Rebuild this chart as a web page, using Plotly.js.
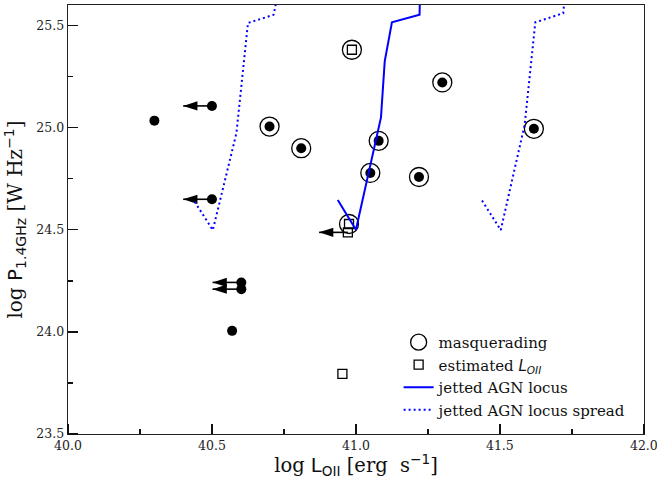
<!DOCTYPE html>
<html>
<head>
<meta charset="utf-8">
<script src="https://cdn.plot.ly/plotly-3.0.1.min.js"></script>
<style>html,body{margin:0;padding:0;background:#fff}#chart{width:657px;height:479px}</style>
</head>
<body>
<div id="chart"></div>
<script>
// plain detections (filled dots)
const dotX = [40.30, 40.57, 40.70, 40.81, 41.30, 41.079, 41.05, 41.219, 41.618];
const dotY = [25.034, 24.005, 25.005, 24.899, 25.221, 24.935, 24.778, 24.758, 24.994];
// upper limits on L_OII (filled dots with left arrows)
const limX = [40.50, 40.50, 40.602, 40.602];
const limY = [25.106, 24.649, 24.242, 24.209];
// masquerading sources (rings)
const ringX = [40.70, 40.81, 41.30, 41.079, 41.05, 41.219, 41.618, 40.986, 40.976];
const ringY = [25.005, 24.899, 25.221, 24.935, 24.778, 24.758, 24.994, 25.381, 24.528];
// estimated L_OII (open squares)
const sqX = [40.986, 40.976, 40.972, 40.953];
const sqY = [25.381, 24.528, 24.487, 23.794];
// estimated L_OII that is an upper limit
const sqLimX = [40.972];
const sqLimY = [24.487];
// jetted AGN locus
const locusX = [40.937, 41.0, 41.087, 41.10, 41.125, 41.221, 41.223];
const locusY = [24.645, 24.50, 25.05, 25.324, 25.515, 25.552, 25.70];
// spread of the locus
const spreadLoX = [40.44, 40.503, 40.585, 40.625, 40.714, 40.724];
const spreadLoY = [24.637, 24.498, 24.973, 25.512, 25.552, 25.62];
const spreadHiX = [41.438, 41.503, 41.586, 41.623, 41.72, 41.724];
const spreadHiY = [24.643, 24.498, 25.013, 25.515, 25.56, 25.62];
// axis ticks
const xTicks = [40.0, 40.5, 41.0, 41.5, 42.0];
const xMinor = [40.25, 40.75, 41.25, 41.75];
const yTicks = [23.5, 24.0, 24.5, 25.0, 25.5];
const yMinor = [23.75, 24.25, 24.75, 25.25];
const arrowLen = 0.1;

const allLimX = limX.concat(sqLimX), allLimY = limY.concat(sqLimY);
const arrX = [], arrY = [], tipX = [], tipY = [];
allLimX.forEach((x, i) => {
  arrX.push(x, x - arrowLen, null); arrY.push(allLimY[i], allLimY[i], null);
  tipX.push(x - arrowLen); tipY.push(allLimY[i]);
});

const serif = 'DejaVu Serif, serif';
const blue = 'rgb(0,0,255)';
const tickCol = '#111';

const traces = [
  {x: arrX, y: arrY, mode: 'lines', line: {color: 'black', width: 1.6}, showlegend: false, hoverinfo: 'skip'},
  {x: tipX, y: tipY, mode: 'markers', marker: {symbol: 'arrow', angle: -90, size: 15, color: 'black', line: {width: 0}}, showlegend: false},
  {x: dotX.concat(limX), y: dotY.concat(limY), mode: 'markers', marker: {symbol: 'circle', size: 10, color: 'black', line: {width: 0}}, showlegend: false},
  {x: ringX, y: ringY, mode: 'markers', name: 'masquerading', marker: {symbol: 'circle-open', size: 19, color: 'black', line: {width: 1.3, color: 'black'}}},
  {x: sqX, y: sqY, mode: 'markers', name: 'estimated <i><span style="font-family:DejaVu Sans">L<sub>OII</sub></span></i>', marker: {symbol: 'square-open', size: 9, color: 'black', line: {width: 1.3, color: 'black'}}},
  {x: locusX, y: locusY, mode: 'lines', name: 'jetted AGN locus', line: {color: blue, width: 2}},
  {x: spreadLoX, y: spreadLoY, mode: 'lines', name: 'jetted AGN locus spread', legendgroup: 'sp', line: {color: blue, width: 2, dash: '2px,3px'}},
  {x: spreadHiX, y: spreadHiY, mode: 'lines', name: 'jetted AGN locus spread', legendgroup: 'sp', showlegend: false, line: {color: blue, width: 2, dash: '2px,3px'}},
  // empty trace that only anchors the overlay axes carrying the major tick marks
  {x: [], y: [], xaxis: 'x2', yaxis: 'y2', mode: 'markers', showlegend: false, hoverinfo: 'skip'}
];

const axisCommon = {
  showgrid: false, zeroline: false, showline: true, mirror: true,
  linecolor: '#222', linewidth: 1.3,
  ticks: 'inside', ticklen: 10, tickwidth: 1.5, tickcolor: tickCol,
  ticklabeloverflow: 'allow', tickformat: '.1f',
  tickfont: {family: serif, size: 12.5, color: '#222'}
};
const minorCommon = {ticks: 'inside', ticklen: 5, tickwidth: 1.5, tickcolor: tickCol, showgrid: false};
const overlayCommon = {
  showgrid: false, zeroline: false, showline: false, showticklabels: false,
  ticks: '', tickmode: 'array', tickvals: []
};

const layout = {
  width: 657, height: 479,
  margin: {l: 68, r: 13, t: 5, b: 45},
  paper_bgcolor: 'white', plot_bgcolor: 'white',
  font: {family: serif, color: '#111'},
  xaxis: Object.assign({}, axisCommon, {
    range: [40.0, 42.0005], tickmode: 'array', tickvals: xTicks,
    minor: Object.assign({}, minorCommon, {tickvals: xMinor}),
    title: {text: 'log <span style="font-family:DejaVu Sans">L<sub>OII</sub></span> [erg  s<sup><span style="font-family:DejaVu Sans">−1</span></sup>]', font: {family: serif, size: 19.5, color: '#111'}, standoff: 3}
  }),
  yaxis: Object.assign({}, axisCommon, {
    range: [23.5, 25.6], tickmode: 'array', tickvals: yTicks,
    minor: Object.assign({}, minorCommon, {tickvals: yMinor}),
    title: {text: 'log <span style="font-family:DejaVu Sans">P<sub>1.4GHz</sub></span> [W Hz<sup><span style="font-family:DejaVu Sans">−1</span></sup>]', font: {family: serif, size: 20, color: '#111'}, standoff: 8}
  }),
  xaxis2: Object.assign({}, overlayCommon, {
    overlaying: 'x', anchor: 'y2', side: 'bottom', range: [40.0, 42.0005],
    minor: {tickmode: 'array', tickvals: xTicks, ticks: 'inside', ticklen: 10, tickwidth: 1.5, tickcolor: tickCol, showgrid: false}
  }),
  yaxis2: Object.assign({}, overlayCommon, {
    overlaying: 'y', anchor: 'x2', side: 'left', range: [23.5, 25.6],
    minor: {tickmode: 'array', tickvals: yTicks, ticks: 'inside', ticklen: 10, tickwidth: 1.5, tickcolor: tickCol, showgrid: false}
  }),
  legend: {x: 0.574, y: 0.252, xanchor: 'left', yanchor: 'top', bgcolor: 'rgba(0,0,0,0)', borderwidth: 0,
           font: {family: serif, size: 15, color: '#111'}, tracegroupgap: 0},
  showlegend: true
};

Plotly.newPlot('chart', traces, layout, {displayModeBar: false, staticPlot: true});
</script>
</body>
</html>
